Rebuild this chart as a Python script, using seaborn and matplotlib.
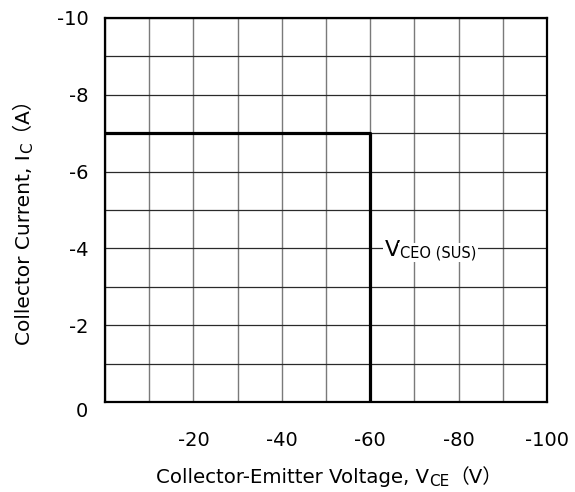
import matplotlib
matplotlib.use("Agg")
import matplotlib.pyplot as plt
import seaborn as sns
import pandas as pd
from matplotlib.font_manager import FontProperties

# Data
vce = [0, -60, -60]
ic = [-7, -7, 0]
x_ticks = [-20, -40, -60, -80, -100]
y_ticks = [0, -2, -4, -6, -8, -10]
x_grid = list(range(0, -101, -10))
y_grid = list(range(0, -11, -1))
xlabel_parts = ["Collector-Emitter Voltage, V", "CE", "（V）"]
ylabel_parts = ["Collector Current, I", "C", "（A）"]
annot_parts = ["V", "CEO (SUS)"]
annot_pos = (-63.3, -3.8)

W, H = 575, 492
sns.set_theme(style="white")
FAM = ['DejaVu Sans', 'Noto Sans CJK SC']
plt.rcParams['font.family'] = FAM

fig = plt.figure(figsize=(W / 100, H / 100), dpi=100)
ax = fig.add_axes([105 / W, 1 - 402 / H, 442 / W, 384 / H])

for xv in x_grid:
    ax.axvline(xv, color='#7a7a7a', lw=1.0, zorder=1)
for yv in y_grid:
    ax.axhline(yv, color='#2a2a2a', lw=0.9, zorder=1)

df = pd.DataFrame({'VCE': vce, 'IC': ic})
sns.lineplot(data=df, x='VCE', y='IC', sort=False, estimator=None,
             color='black', lw=2.3, ax=ax, zorder=3)

ax.set_xlim(0, -100)
ax.set_ylim(0, -10)
ax.set_xticks(x_ticks)
ax.set_xticklabels([str(t) for t in x_ticks])
ax.set_yticks(y_ticks)
ax.set_yticklabels([str(t) for t in y_ticks])
ax.tick_params(axis='both', length=0, labelsize=14, colors='black')
ax.tick_params(axis='x', pad=21)
ax.tick_params(axis='y', pad=12)
for lab in ax.get_yticklabels():
    if lab.get_text() == '0':
        lab.set_va('top')
ax.set_xlabel('')
ax.set_ylabel('')

for s in ax.spines.values():
    s.set_visible(True)
    s.set_color('black')
    s.set_linewidth(1.6)

renderer = fig.canvas.get_renderer()


def ink_left(s, size):
    """Left ink bearing in pixels (agg applies it along x only, even for rotated text)."""
    try:
        from matplotlib.backends.backend_agg import get_hinting_flag
        font = renderer._prepare_font(FontProperties(family=FAM, size=size))
        font.set_text(s, 0, flags=get_hinting_flag())
        return font.get_bitmap_offset()[0] / 64.0
    except Exception:
        return 0.0


def rich(pieces, x_px, y_px, rotation=0, bbox=None, zorder=5):
    """pieces: (text, fontsize, down_shift_px); x_px, y_px: start baseline in pixels."""
    widths = []
    for s, size, _ in pieces:
        t = fig.text(0, 0, s, fontsize=size, family=FAM)
        widths.append(t.get_window_extent(renderer).width)
        t.remove()
    pos = 0.0
    for (s, size, dy), w in zip(pieces, widths):
        if rotation == 0:
            x, y = x_px + pos, y_px - dy
        else:
            xo = ink_left(s, size)
            x, y = x_px + dy - xo, y_px + pos + xo
        fig.text(x / W, y / H, s, fontsize=size, family=FAM, rotation=rotation,
                 rotation_mode='anchor', ha='left', va='baseline', color='black',
                 bbox=bbox, zorder=zorder)
        pos += w


# x-axis label
rich([(xlabel_parts[0], 14.2, 0), (xlabel_parts[1], 11, 3), (xlabel_parts[2], 14.2, 0)],
     156, H - 483)
# y-axis label (rotated)
rich([(ylabel_parts[0], 14.5, 0), (ylabel_parts[1], 11, 3), (ylabel_parts[2], 14.5, 0)],
     30, H - 345, rotation=90)

# annotation
ax_px = ax.transData.transform(annot_pos)
rich([(annot_parts[0], 16, 0), (annot_parts[1], 10.5, 1)], ax_px[0], ax_px[1],
     bbox=dict(facecolor='white', edgecolor='none', pad=1.5))

fig.savefig('out.png', dpi=100)
